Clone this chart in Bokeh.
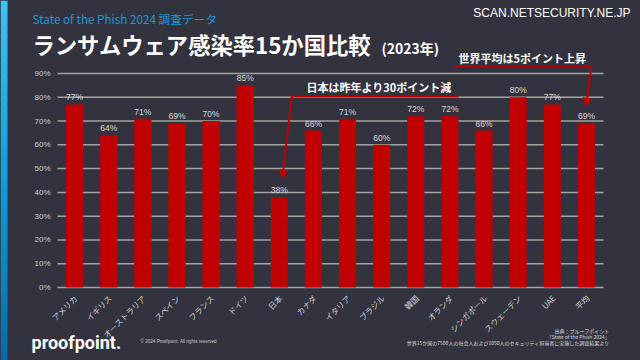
from bokeh.plotting import figure
from bokeh.models import Range1d, Arrow, NormalHead, ColumnDataSource
from bokeh.core.properties import value
from bokeh.embed import file_html
from bokeh.resources import INLINE
from math import pi

# ---------------- data ----------------
countries = ["アメリカ", "イギリス", "オーストラリア", "スペイン", "フランス", "ドイツ", "日本",
             "カナダ", "イタリア", "ブラジル", "韓国", "オランダ", "シンガポール", "スウェーデン",
             "UAE", "平均"]
rates = [77, 64, 71, 69, 70, 85, 38, 66, 71, 60, 72, 72, 66, 80, 77, 69]
y_ticks = [0, 10, 20, 30, 40, 50, 60, 70, 80, 90]
y_tick_labels = [f"{t}%" for t in y_ticks]

title_text = "ランサムウェア感染率15か国比較"
title_year = "(2023年)"
subtitle_text = "State of the Phish 2024 調査データ"
site_text = "SCAN.NETSECURITY.NE.JP"
note_japan = "日本は昨年より30ポイント減"
note_avg = "世界平均は5ポイント上昇"
footer_logo = "proofpoint."
footer_copy = "© 2024 Proofpoint. All rights reserved"
footer_src = ["出典：プルーフポイント", "「State of the Phish 2024」",
              "世界15か国の7500人の社会人および1050人のセキュリティ担当者に実施した調査結果より"]

# ---------------- style / layout ----------------
BG = "#33333f"
RED = "#c00000"
GRID = "#a3a3a3"
JP = "Noto Sans CJK JP"
LAT = "Liberation Sans"

W, H = 640, 360
PLOT_L, PLOT_R = 57, 603              # plot area, px
Y0_PX, Y90_PX = 287, 73
n = len(countries)
CAT_PX = (PLOT_R - PLOT_L) / n
PCT_PX = (Y0_PX - Y90_PX) / 90.0


def dx(xp):
    return (xp - PLOT_L) / CAT_PX - 0.5


def dy(yp):
    return (Y0_PX - yp) / PCT_PX


def fs(px):
    return f"{px:.2f}px"


p = figure(width=W, height=H, x_range=Range1d(dx(0), dx(W)), y_range=Range1d(dy(H), dy(0)),
           x_axis_type=None, y_axis_type=None, min_border=0,
           output_backend="svg", toolbar_location=None,
           background_fill_color=BG, border_fill_color=BG, outline_line_color=None)


def txt(text, xp, yp, size, color="#ffffff", font=JP, style="normal", align="left"):
    p.text(x=[dx(xp)], y=[dy(yp)], text=[text], text_font=value(font), text_font_size=fs(size),
           text_color=color, text_font_style=style, text_align=align, text_baseline="middle")


# left accent stripe (vertical blue gradient)
stops = [(0.0, (0x3c, 0xc3, 0xf4)), (0.55, (0x0a, 0x9a, 0xd8)), (1.0, (0x0a, 0x6a, 0xa0))]
NB = 40
band_top, band_bot, band_col = [], [], []
for k in range(NB):
    t = (k + 0.5) / NB
    for (t0, c0), (t1, c1) in zip(stops[:-1], stops[1:]):
        if t0 <= t <= t1:
            f = (t - t0) / (t1 - t0)
            rgb = [round(a + (b - a) * f) for a, b in zip(c0, c1)]
    band_col.append("#%02x%02x%02x" % tuple(rgb))
    band_top.append(dy(H * k / NB))
    band_bot.append(dy(H * (k + 1) / NB + 0.6))
p.quad(left=dx(0), right=dx(7), top=band_top, bottom=band_bot, fill_color=band_col, line_color=None)

# header
txt(subtitle_text, 32, 17.5, 11.7, color="#1e98d8")
txt(title_text, 32, 43, 22.3, style="bold")
txt(title_year, 381, 47, 14, style="bold")
txt(site_text, 630, 12, 12, font=LAT, align="right")

# grid lines and y tick labels
k = len(y_ticks)
p.segment(x0=[-0.5] * k, x1=[n - 0.5] * k, y0=y_ticks, y1=y_ticks, line_color=GRID, line_width=1.5)
p.text(x=[dx(50)] * k, y=y_ticks, text=y_tick_labels, text_font=value(LAT), text_font_size=fs(8),
       text_color="#cfcfcf", text_align="right", text_baseline="middle")

# bars and value labels
idx = list(range(n))
src = ColumnDataSource(dict(x=idx, top=rates, lab=[f"{v}%" for v in rates]))
p.vbar(x="x", top="top", bottom=0, width=0.5, source=src, fill_color=RED, line_color=None)
p.text(x="x", y="top", text="lab", source=src, y_offset=-2, text_align="center",
       text_baseline="bottom", text_font_size=fs(8.5), text_color="#d9d9d9", text_font=value(LAT))

# category labels (rotated 45 degrees, ending under each bar)
p.text(x=[i + 0.04 for i in idx], y=[dy(296)] * n, text=countries, angle=pi / 4,
       text_font=value(JP), text_font_size=fs(8), text_color="#d0d0d0",
       text_align="right", text_baseline="middle")

# annotations tied to the bars
jp = countries.index("日本")
av = countries.index("平均")
jp_tip = (jp + 0.09, rates[jp] + 7.8)
av_tip = (av - 0.01, rates[av] + 7.2)
jp_corner = (jp + 0.36, dy(96))
av_corner = (av + 0.15, dy(65.7))

p.add_layout(Arrow(end=None, x_start=jp_corner[0], y_start=jp_corner[1], x_end=dx(458),
                   y_end=jp_corner[1], line_color=RED, line_width=2))
p.add_layout(Arrow(end=NormalHead(size=8, fill_color=RED, line_color=RED), x_start=jp_corner[0],
                   y_start=jp_corner[1], x_end=jp_tip[0], y_end=jp_tip[1], line_color=RED, line_width=2))
p.add_layout(Arrow(end=None, x_start=dx(453), y_start=av_corner[1], x_end=av_corner[0],
                   y_end=av_corner[1], line_color=RED, line_width=2))
p.add_layout(Arrow(end=NormalHead(size=8, fill_color=RED, line_color=RED), x_start=av_corner[0],
                   y_start=av_corner[1], x_end=av_tip[0], y_end=av_tip[1], line_color=RED, line_width=2))

txt(note_japan, 306, 86, 11, style="bold")
txt(note_avg, 458, 57, 11, style="bold")

# footer
txt(footer_logo, 31, 342, 18, font="Roboto", style="bold")
txt(footer_copy, 140, 341, 4.6, color="#cccccc", font=LAT)
for i, t in enumerate(footer_src):
    txt(t, 609, 330 + 6 * i, 5, color="#dddddd", align="right")

html = file_html(p, INLINE)
html = html.replace("</head>", "<style>html, body { background: #33333f; }</style></head>", 1)
open("out.html", "w").write(html)
